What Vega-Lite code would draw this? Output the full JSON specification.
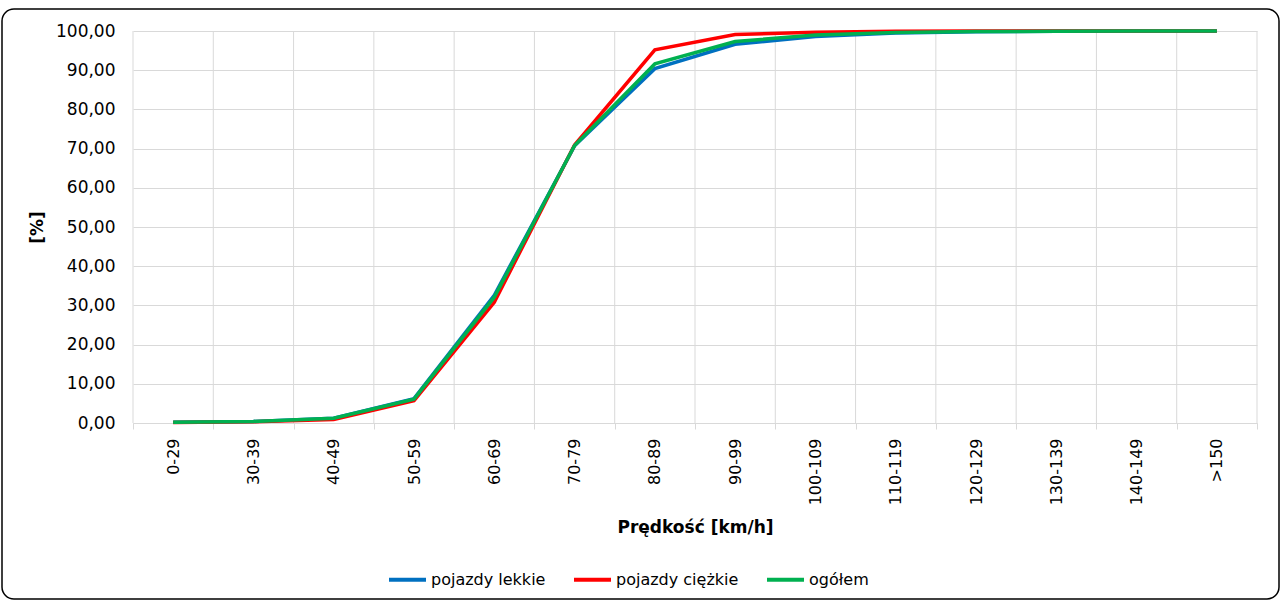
{
  "$schema": "https://vega.github.io/schema/vega-lite/v6.json",
  "width": 1277,
  "height": 590,
  "autosize": {"type": "none"},
  "padding": {"left": 2, "top": 9, "right": 4, "bottom": 2},
  "background": "white",
  "config": {
    "view": {"stroke": "black", "strokeWidth": 1.5, "cornerRadius": 12},
    "font": "DejaVu Sans"
  },
  "data": {
    "values": [
      {"k": "0-29", "s": "pojazdy lekkie", "v": 0.2},
      {"k": "30-39", "s": "pojazdy lekkie", "v": 0.4},
      {"k": "40-49", "s": "pojazdy lekkie", "v": 1.2},
      {"k": "50-59", "s": "pojazdy lekkie", "v": 6.2},
      {"k": "60-69", "s": "pojazdy lekkie", "v": 32.6},
      {"k": "70-79", "s": "pojazdy lekkie", "v": 70.7},
      {"k": "80-89", "s": "pojazdy lekkie", "v": 90.4},
      {"k": "90-99", "s": "pojazdy lekkie", "v": 96.6},
      {"k": "100-109", "s": "pojazdy lekkie", "v": 98.6},
      {"k": "110-119", "s": "pojazdy lekkie", "v": 99.5},
      {"k": "120-129", "s": "pojazdy lekkie", "v": 99.8},
      {"k": "130-139", "s": "pojazdy lekkie", "v": 99.95},
      {"k": "140-149", "s": "pojazdy lekkie", "v": 100},
      {"k": ">150", "s": "pojazdy lekkie", "v": 100},
      {"k": "0-29", "s": "pojazdy ciężkie", "v": 0.15},
      {"k": "30-39", "s": "pojazdy ciężkie", "v": 0.3},
      {"k": "40-49", "s": "pojazdy ciężkie", "v": 0.9},
      {"k": "50-59", "s": "pojazdy ciężkie", "v": 5.7},
      {"k": "60-69", "s": "pojazdy ciężkie", "v": 30.8},
      {"k": "70-79", "s": "pojazdy ciężkie", "v": 70.9},
      {"k": "80-89", "s": "pojazdy ciężkie", "v": 95.2},
      {"k": "90-99", "s": "pojazdy ciężkie", "v": 99.1},
      {"k": "100-109", "s": "pojazdy ciężkie", "v": 99.7},
      {"k": "110-119", "s": "pojazdy ciężkie", "v": 99.95},
      {"k": "120-129", "s": "pojazdy ciężkie", "v": 100},
      {"k": "130-139", "s": "pojazdy ciężkie", "v": 100},
      {"k": "140-149", "s": "pojazdy ciężkie", "v": 100},
      {"k": ">150", "s": "pojazdy ciężkie", "v": 100},
      {"k": "0-29", "s": "ogółem", "v": 0.2},
      {"k": "30-39", "s": "ogółem", "v": 0.4},
      {"k": "40-49", "s": "ogółem", "v": 1.2},
      {"k": "50-59", "s": "ogółem", "v": 6.1},
      {"k": "60-69", "s": "ogółem", "v": 32.1},
      {"k": "70-79", "s": "ogółem", "v": 70.8},
      {"k": "80-89", "s": "ogółem", "v": 91.6},
      {"k": "90-99", "s": "ogółem", "v": 97.3},
      {"k": "100-109", "s": "ogółem", "v": 99.0},
      {"k": "110-119", "s": "ogółem", "v": 99.6},
      {"k": "120-129", "s": "ogółem", "v": 99.85},
      {"k": "130-139", "s": "ogółem", "v": 99.95},
      {"k": "140-149", "s": "ogółem", "v": 100},
      {"k": ">150", "s": "ogółem", "v": 100}
    ]
  },
  "encoding": {
    "x": {
      "field": "k",
      "type": "ordinal",
      "sort": null,
      "scale": {"type": "band", "range": [131, 1255], "paddingInner": 0, "paddingOuter": 0},
      "axis": {
        "orient": "bottom",
        "offset": -176,
        "title": "Prędkość [km/h]",
        "titleFontSize": 17,
        "titleFontWeight": "bold",
        "titleColor": "black",
        "titleY": 104,
        "titleBaseline": "middle",
        "labelAngle": -90,
        "labelFontSize": 16,
        "labelColor": "black",
        "labelPadding": 9,
        "tickBand": "extent",
        "tickSize": 6,
        "tickColor": "#d9d9d9",
        "domainColor": "#d9d9d9",
        "grid": false
      }
    }
  },
  "layer": [
    {
      "transform": [{"filter": "datum.s === 'ogółem'"}],
      "mark": {"type": "rule", "color": "#d9d9d9", "strokeWidth": 1},
      "encoding": {
        "x": {"field": "k", "type": "ordinal", "sort": null, "bandPosition": 0},
        "y": {"datum": 0, "type": "quantitative"},
        "y2": {"datum": 100}
      }
    },
    {
      "transform": [{"filter": "datum.s === 'ogółem' && datum.k === '>150'"}],
      "mark": {"type": "rule", "color": "#d9d9d9", "strokeWidth": 1},
      "encoding": {
        "x": {"field": "k", "type": "ordinal", "sort": null, "bandPosition": 1},
        "y": {"datum": 0, "type": "quantitative"},
        "y2": {"datum": 100}
      }
    },
    {
      "mark": {"type": "line", "strokeWidth": 3.5},
      "encoding": {
        "x": {"field": "k", "type": "ordinal", "sort": null, "bandPosition": 0.5},
        "y": {
          "field": "v",
          "type": "quantitative",
          "scale": {"domain": [0, 100], "range": [414, 22], "nice": false, "zero": true},
          "axis": {
            "orient": "left",
            "offset": -131,
            "values": [0, 10, 20, 30, 40, 50, 60, 70, 80, 90, 100],
            "labelExpr": "replace(format(datum.value, '.2f'), '.', ',')",
            "labelFontSize": 17,
            "labelColor": "black",
            "labelPadding": 18,
            "ticks": false,
            "domain": false,
            "grid": true,
            "gridColor": "#d9d9d9",
            "gridWidth": 1,
            "title": "[%]",
            "titleFontSize": 17,
            "titleFontWeight": "bold",
            "titleColor": "black",
            "titleX": -96,
            "titleAngle": -90,
            "titleBaseline": "middle"
          }
        },
        "color": {
          "field": "s",
          "type": "nominal",
          "sort": null,
          "scale": {
            "domain": ["pojazdy lekkie", "pojazdy ciężkie", "ogółem"],
            "range": ["#0070C0", "#FF0000", "#00B050"]
          },
          "legend": {
            "title": null,
            "orient": "none",
            "direction": "horizontal",
            "legendX": 385,
            "legendY": 550,
            "symbolType": "stroke",
            "symbolSize": 1369,
            "symbolStrokeWidth": 4,
            "labelFontSize": 16,
            "labelColor": "black",
            "labelOffset": 3,
            "columnPadding": 20
          }
        }
      }
    }
  ]
}
